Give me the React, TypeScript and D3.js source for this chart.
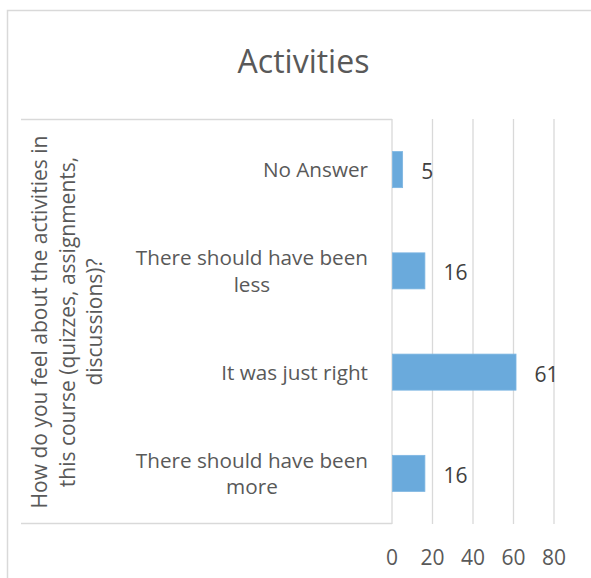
import React, { useEffect, useRef } from "react";
import * as d3 from "d3";

const title = "Activities";
const categories = ["No Answer", "There should have been less", "It was just right", "There should have been more"];
const categoryLines = [["No Answer"], ["There should have been", "less"], ["It was just right"], ["There should have been", "more"]];
const values = [5, 16, 61, 16];
const ticks = [0, 20, 40, 60, 80];
const axisTitleLines = ["How do you feel about the activities in", "this course (quizzes, assignments,", "discussions)?"];

const W = 591;
const H = 578;
const FONT = "'Open Sans', sans-serif";

export default function App() {
  const ref = useRef<SVGSVGElement>(null);

  useEffect(() => {
    const svg = d3.select(ref.current);
    svg.selectAll("*").remove();

    const x = d3.scaleLinear().domain([0, 80]).range([392, 554]);
    const y = d3.scaleBand().domain(categories).range([119, 524]).paddingInner(0.644).paddingOuter(0.322);
    const grid = "#d9d9d9";

    // outer chart border
    svg.append("rect").attr("x", 7.5).attr("y", 10.5).attr("width", W + 20).attr("height", H + 20)
      .attr("fill", "#fff").attr("stroke", grid).attr("stroke-width", 1.5);

    // title
    svg.append("text").attr("x", 303.5).attr("y", 73).attr("text-anchor", "middle")
      .attr("font-family", FONT).attr("font-size", 32).attr("fill", "#595959").text(title);

    // gridlines
    svg.append("g").selectAll("line").data(ticks).join("line")
      .attr("x1", (d) => x(d)).attr("x2", (d) => x(d))
      .attr("y1", 119).attr("y2", 524)
      .attr("stroke", grid).attr("stroke-width", 1.3);

    // table box
    svg.append("line").attr("x1", 21).attr("x2", x(0)).attr("y1", 119.5).attr("y2", 119.5).attr("stroke", grid).attr("stroke-width", 1.3);
    svg.append("line").attr("x1", 21).attr("x2", x(0)).attr("y1", 523.5).attr("y2", 523.5).attr("stroke", grid).attr("stroke-width", 1.3);

    // bars
    svg.append("g").selectAll("rect").data(values).join("rect")
      .attr("x", x(0) + 0.5)
      .attr("y", (_d, i) => y(categories[i]) as number)
      .attr("width", (d) => x(d) - x(0))
      .attr("height", y.bandwidth())
      .attr("fill", "#6aaadc").attr("stroke", "#7db6e2").attr("stroke-width", 0.8);

    // value labels
    svg.append("g").selectAll("text").data(values).join("text")
      .attr("x", (d) => x(d) + 19)
      .attr("y", (_d, i) => (y(categories[i]) as number) + y.bandwidth() / 2 + 9.5)
      .attr("font-family", FONT).attr("font-size", 21).attr("fill", "#404040")
      .text((d) => String(d));

    // tick labels
    svg.append("g").selectAll("text").data(ticks).join("text")
      .attr("x", (d) => x(d)).attr("y", 565).attr("text-anchor", "middle")
      .attr("font-family", FONT).attr("font-size", 21).attr("fill", "#595959")
      .text((d) => String(d));

    // category labels
    const lineH = 26.5;
    categories.forEach((c, i) => {
      const lines = categoryLines[i];
      const cy = (y(c) as number) + y.bandwidth() / 2;
      const g = svg.append("g");
      const texts = lines.map((ln, j) =>
        g.append("text")
          .attr("y", cy + 7.5 + (j - (lines.length - 1) / 2) * lineH)
          .attr("font-family", FONT).attr("font-size", 20.7).attr("fill", "#595959")
          .attr("text-anchor", "middle")
          .text(ln)
      );
      const widths = texts.map((t) => (t.node() as SVGTextElement).getComputedTextLength());
      const maxW = d3.max(widths) || 0;
      texts.forEach((t) => t.attr("x", 368 - maxW / 2));
    });

    // axis title (rotated)
    const ag = svg.append("g").attr("transform", "translate(0,322) rotate(-90)");
    axisTitleLines.forEach((ln, j) => {
      ag.append("text").attr("x", 0).attr("y", 47 + j * 27.5).attr("text-anchor", "middle")
        .attr("font-family", FONT).attr("font-size", 21).attr("fill", "#595959").text(ln);
    });
  }, []);

  return (
    <svg ref={ref} width={W} height={H} style={{ position: "absolute", left: 0, top: 0, background: "#fff" }} />
  );
}
